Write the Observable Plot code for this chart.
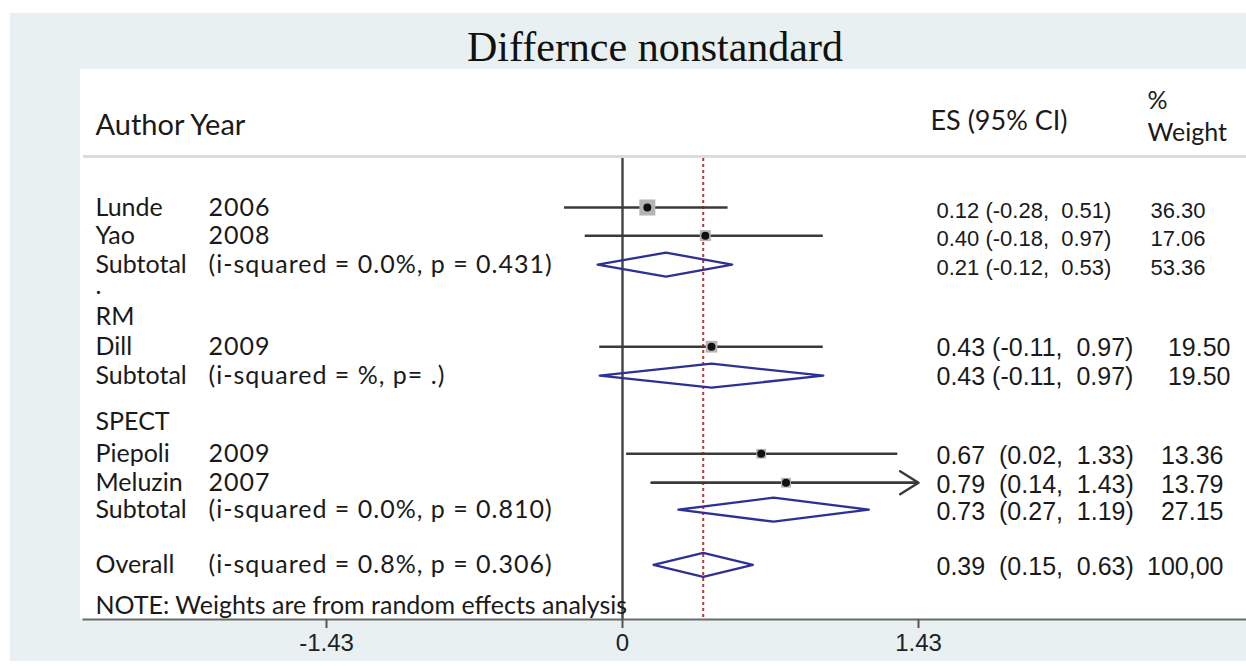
<!DOCTYPE html>
<html>
<head>
<meta charset="utf-8">
<script src="https://cdn.jsdelivr.net/npm/d3@7"></script>
<script src="https://cdn.jsdelivr.net/npm/@observablehq/plot@0.6"></script>
<style>
  html, body { margin: 0; padding: 0; background: #fff; width: 1246px; height: 666px; overflow: hidden; }
  #bg { position: absolute; left: 10px; top: 13px; width: 1236px; height: 648px; background: #e8f0f2; }
  #title { position: absolute; left: 355px; width: 600px; top: 22px; text-align: center;
           font-family: "Liberation Serif", "Times New Roman", serif; font-size: 42px; line-height: 50px; color: #111; }
  #panel { position: absolute; left: 80px; top: 69px; width: 1166px; height: 550px; background: #fff; }
  #sep { position: absolute; left: 83px; top: 155px; width: 1163px; height: 3px; background: #dcdcdc; }
  #chart { position: absolute; left: 80px; top: 69px; width: 1166px; }
  #chart svg text { white-space: pre; }
</style>
</head>
<body>
<div id="bg"></div>
<div id="title">Differnce nonstandard</div>
<div id="panel"></div>
<div id="sep"></div>
<div id="chart"></div>
<script>
// ---------- data ----------
const rowLabel = ["Lunde", "Yao", "Subtotal", ".", "RM", "Dill", "Subtotal", "SPECT", "Piepoli", "Meluzin", "Subtotal", "Overall", "NOTE: Weights are from random effects analysis"];
const rowInfo  = ["2006", "2008", "(i-squared = 0.0%, p = 0.431)", "", "", "2009", "(i-squared = %, p= .)", "", "2009", "2007", "(i-squared = 0.0%, p = 0.810)", "(i-squared = 0.8%, p = 0.306)", ""];
const rowType  = ["study", "study", "subtotal", "text", "text", "study", "subtotal", "text", "study", "study", "subtotal", "overall", "note"];
const es     = [0.12, 0.40, 0.21, null, null, 0.43, 0.43, null, 0.67, 0.79, 0.73, 0.39, null];
const ciLow  = [-0.28, -0.18, -0.12, null, null, -0.11, -0.11, null, 0.02, 0.14, 0.27, 0.15, null];
const ciHigh = [0.51, 0.97, 0.53, null, null, 0.97, 0.97, null, 1.33, 1.43, 1.19, 0.63, null];
const weightLabel = ["36.30", "17.06", "53.36", "", "", "19.50", "19.50", "", "13.36", "13.79", "27.15", "100,00", ""];
const xTicks = [-1.43, 0, 1.43];
const xTickLabels = ["-1.43", "0", "1.43"];
const headers = { author: "Author Year", es: "ES (95% CI)", pct: "%", weight: "Weight" };

// ---------- layout (not data) ----------
const rowGap = [0, 0.97, 1, 0.72, 1.08, 1.03, 1, 1.59, 1.1, 1, 0.93, 1.9, 1.41];
const rowPx = 29;
const rowPos = d3.cumsum(rowGap);
const diamondHalf = 12 / rowPx;
const W = 1166, H = 597;

const rows = rowLabel.map((label, i) => ({
  i, label, info: rowInfo[i], type: rowType[i],
  es: es[i], lo: ciLow[i], hi: ciHigh[i],
  wLabel: weightLabel[i],
  weight: weightLabel[i] ? parseFloat(weightLabel[i].replace(",", ".")) : null,
  pos: rowPos[i],
  group: i <= 2 ? "A" : (i <= 6 ? "B" : "C")
}));
const studies = rows.filter(d => d.type === "study");
const pooled = rows.filter(d => d.type === "subtotal" || d.type === "overall");
const withEs = rows.filter(d => d.es != null);
const xMax = d3.max(xTicks);

const diamonds = pooled.flatMap(d => [
  {z: d.i, x: d.lo, y: d.pos},
  {z: d.i, x: d.es, y: d.pos - diamondHalf},
  {z: d.i, x: d.hi, y: d.pos},
  {z: d.i, x: d.es, y: d.pos + diamondHalf},
  {z: d.i, x: d.lo, y: d.pos}
]);

const f2 = v => v.toFixed(2);
const esText = d => `${f2(d.es)} ${d.lo < 0 ? "" : " "}(${f2(d.lo)},  ${f2(d.hi)})`;

const groupStyle = {
  A: {size: 22, esDy: 3, wDx: -41},
  B: {size: 25, esDy: 1, wDx: -16},
  C: {size: 25, esDy: 2, wDx: -23}
};
const labelFont = "Lato, 'Open Sans', sans-serif";
const infoFont = "Lato, sans-serif";
const numFont = "'Liberation Sans', Arial, sans-serif";
const navy = "#2e3192";
const ink = "#1a1a1a";

const marks = [
  Plot.ruleX([0], {stroke: "#4a4a4a", strokeWidth: 2.5}),
  Plot.ruleX(rows.filter(d => d.type === "overall"), {x: "es", stroke: "#b03a3a", strokeWidth: 2, strokeDasharray: "3,3"}),
  Plot.frame({anchor: "bottom", stroke: "#6b6b6b", strokeWidth: 2}),
  Plot.axisX({ticks: xTicks, tickFormat: d => xTickLabels[xTicks.indexOf(d)], tickSize: 9, tickPadding: 5,
              fontSize: 24, fontFamily: numFont, stroke: "#555", strokeWidth: 2, fill: "#222", label: null}),
  Plot.ruleY(studies, {y: "pos", x1: "lo", x2: "hi", stroke: "#3a3a3a", strokeWidth: 2.5}),
  Plot.arrow(studies.filter(d => d.hi >= xMax), {x1: "lo", x2: "hi", y1: "pos", y2: "pos", stroke: "#3a3a3a", strokeWidth: 2.5, headLength: 13, headAngle: 64}),
  Plot.dot(studies, {x: "es", y: "pos", r: "weight", symbol: "square", fill: "#b5b5b5"}),
  Plot.dot(studies, {x: "es", y: "pos", r: 4, fill: "#111"}),
  Plot.line(diamonds, {x: "x", y: "y", z: "z", stroke: navy, strokeWidth: 2.3, curve: "linear"}),
  // left columns
  Plot.text(rows, {y: "pos", text: "label", frameAnchor: "left", dx: 12, textAnchor: "start", lineAnchor: "middle", fontFamily: labelFont, fontSize: 25, fill: ink}),
  Plot.text(rows, {y: "pos", text: "info", frameAnchor: "left", dx: 125, textAnchor: "start", lineAnchor: "middle", fontFamily: infoFont, fontSize: 25, fill: ink}),
  // right columns
  ...Object.entries(groupStyle).flatMap(([g, s]) => [
    Plot.text(withEs.filter(d => d.group === g), {y: "pos", text: esText, frameAnchor: "right", dx: -310, dy: s.esDy,
      textAnchor: "start", lineAnchor: "middle", fontFamily: numFont, fontSize: s.size, fill: ink}),
    Plot.text(withEs.filter(d => d.group === g), {y: "pos", text: "wLabel", frameAnchor: "right", dx: s.wDx, dy: s.esDy,
      textAnchor: "end", lineAnchor: "middle", fontFamily: numFont, fontSize: s.size, fill: ink})
  ]),
  // headers
  Plot.text([headers.author], {text: d => d, frameAnchor: "top-left", dx: 12, dy: -33, textAnchor: "start", lineAnchor: "middle", fontFamily: labelFont, fontSize: 29, fill: ink}),
  Plot.text([headers.es], {text: d => d, frameAnchor: "top-right", dx: -316, dy: -37, textAnchor: "start", lineAnchor: "middle", fontFamily: labelFont, fontSize: 27, fill: ink}),
  Plot.text([headers.pct], {text: d => d, frameAnchor: "top-right", dx: -99, dy: -58, textAnchor: "start", lineAnchor: "middle", fontFamily: labelFont, fontSize: 25, fill: ink}),
  Plot.text([headers.weight], {text: d => d, frameAnchor: "top-right", dx: -99, dy: -26, textAnchor: "start", lineAnchor: "middle", fontFamily: labelFont, fontSize: 25, fill: ink})
];

const chart = Plot.plot({
  width: W, height: H,
  marginTop: 89, marginBottom: 47, marginLeft: 3, marginRight: 0,
  style: {background: "transparent", overflow: "visible"},
  x: {domain: [-1.43, 1.43], range: [246, 838]},
  y: {domain: [0, 1], range: [138, 138 + rowPx], axis: null},
  r: {type: "sqrt", domain: [0, 100], range: [0, 15]},
  marks
});
// widen the parenthetical statistics column slightly (Calibri-like spacing)
d3.select(chart).selectAll("g").filter(function () { return this.getAttribute("font-family") === infoFont; })
  .selectAll("text").style("letter-spacing", "1px");
document.getElementById("chart").appendChild(chart);
</script>
</body>
</html>
